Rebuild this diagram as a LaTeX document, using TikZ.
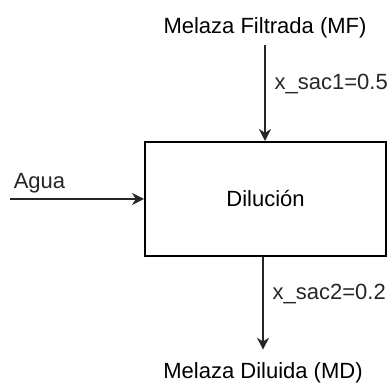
\documentclass[tikz,border=0pt]{standalone}
\usepackage{fontspec}
\setmainfont{Liberation Sans}
\usetikzlibrary{arrows.meta, positioning}

\begin{document}
\begin{tikzpicture}[x=0.5pt, y=-0.5pt,
    >={Stealth[length=6pt, width=6pt]},
    proceso/.style={draw, line width=1pt, minimum width=120.5pt, minimum height=57pt, font=\fontsize{11}{13}\selectfont},
    corriente/.style={font=\fontsize{11}{13}\selectfont},
    flujo/.style={->, line width=1pt, color=black!85},
    lbl/.style={font=\fontsize{11}{13}\selectfont},
]
\useasboundingbox (0,0) rectangle (390,383);
\node[proceso] (dil) at (265.5,199) {Dilución};
\node[corriente] (mf) at (265,28) {Melaza Filtrada (MF)};
\node[corriente] (md) at (263,373) {Melaza Diluida (MD)};
\coordinate (agua) at (10,199);
\draw[flujo] (mf) -- node[lbl, right, pos=0.4, xshift=1pt] {x\_sac1=0.5} (mf |- dil.north);
\draw[flujo] (md |- dil.south) -- node[lbl, right, pos=0.4, xshift=1pt] {x\_sac2=0.2} ([yshift=3pt]md.north);
\draw[flujo] (agua) -- node[lbl, above, pos=0.22, yshift=-1pt] {Agua} (dil.west);
\end{tikzpicture}
\end{document}
